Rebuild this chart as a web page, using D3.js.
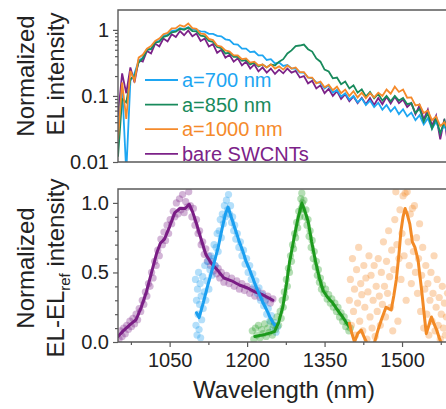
<!DOCTYPE html>
<html><head><meta charset="utf-8">
<script src="https://cdn.jsdelivr.net/npm/d3@7"></script>
<style>html,body{margin:0;padding:0;background:#fff;overflow:hidden}svg{display:block}</style>
</head><body><svg id="c" width="446" height="409"></svg>
<script>
// ---------- TOP PANEL DATA (normalized EL, log scale) ----------
const topWl = [950,958,966,974,982,990,998,1006,1014,1022,
1030,1038,1046,1054,1062,1070,1078,1086,1094,1102,
1110,1118,1126,1134,1142,1150,1158,1166,1174,1182,
1190,1198,1206,1214,1222,1230,1238,1246,1254,1262,
1270,1278,1286,1294,1302,1310,1318,1326,1334,1342,
1350,1358,1366,1374,1382,1390,1398,1406,1414,1422,
1430,1438,1446,1454,1462,1470,1478,1486,1494,1502,
1510,1518,1526,1534,1542,1550,1558,1566,1574,1582,
1590,1598,1606];
const topBlue = [0.03,0.14,0.007,0.17,0.22,0.34,0.38,0.51,0.52,0.66,
0.68,0.82,0.84,0.96,0.98,1.06,1.03,1.1,1.02,1.0,
0.95,0.94,0.87,0.87,0.81,0.8,0.72,0.7,0.61,0.6,
0.52,0.52,0.46,0.47,0.41,0.41,0.35,0.36,0.31,0.32,
0.285,0.295,0.26,0.26,0.225,0.225,0.19,0.185,0.16,0.158,
0.13,0.145,0.112,0.124,0.098,0.11,0.088,0.1,0.08,0.092,
0.073,0.085,0.068,0.079,0.062,0.073,0.058,0.068,0.053,0.063,
0.049,0.056,0.043,0.051,0.037,0.046,0.032,0.041,0.028,0.036,
0.025,0.032,0.024];
const topGreen = [0.012,0.09,0.08,0.18,0.2,0.32,0.37,0.5,0.51,0.64,
0.66,0.78,0.82,0.92,0.94,1.04,1.0,1.08,0.96,0.95,
0.82,0.8,0.68,0.66,0.55,0.53,0.44,0.45,0.39,0.39,
0.34,0.35,0.3,0.32,0.28,0.3,0.27,0.3,0.29,0.33,
0.36,0.44,0.49,0.57,0.58,0.6,0.51,0.47,0.37,0.33,
0.25,0.235,0.185,0.19,0.15,0.165,0.13,0.145,0.112,0.126,
0.098,0.115,0.092,0.107,0.085,0.1,0.083,0.1,0.085,0.093,
0.075,0.078,0.055,0.064,0.041,0.055,0.032,0.046,0.027,0.042,
0.025,0.035,0.023];
const topOrange = [0.022,0.16,0.045,0.24,0.17,0.38,0.42,0.52,0.57,0.68,
0.74,0.86,0.9,1.05,1.06,1.18,1.12,1.25,1.06,1.04,
0.88,0.86,0.73,0.7,0.58,0.56,0.49,0.47,0.41,0.41,
0.36,0.37,0.32,0.33,0.29,0.3,0.27,0.3,0.26,0.28,
0.25,0.29,0.26,0.27,0.23,0.23,0.19,0.19,0.155,0.165,
0.135,0.148,0.122,0.138,0.11,0.125,0.1,0.118,0.095,0.112,
0.092,0.11,0.095,0.112,0.1,0.125,0.108,0.138,0.115,0.125,
0.094,0.095,0.072,0.074,0.055,0.06,0.043,0.049,0.035,0.04,
0.03,0.034,0.026];
const topPurple = [0.05,0.22,0.11,0.27,0.16,0.35,0.33,0.48,0.44,0.62,
0.56,0.74,0.67,0.86,0.78,0.96,0.83,0.98,0.8,0.88,
0.68,0.74,0.56,0.61,0.45,0.5,0.38,0.42,0.33,0.37,
0.29,0.33,0.26,0.3,0.235,0.27,0.225,0.26,0.215,0.25,
0.22,0.26,0.225,0.24,0.19,0.2,0.155,0.17,0.13,0.145,
0.11,0.128,0.1,0.118,0.09,0.106,0.083,0.098,0.078,0.094,
0.075,0.093,0.073,0.093,0.075,0.097,0.077,0.097,0.078,0.088,
0.068,0.078,0.053,0.072,0.044,0.062,0.035,0.05,0.022,0.045,
0.016,0.038,0.026];
const legendLabels = ["a=700 nm","a=850 nm","a=1000 nm","bare SWCNTs"];
const topTickVals = [0.01,0.1,1];
const topTickLabels = ["0.01","0.1","1"];
const topMinorVals = [0.02,0.03,0.04,0.05,0.06,0.07,0.08,0.09,0.2,0.3,0.4,0.5,0.6,0.7,0.8,0.9];

// ---------- BOTTOM PANEL DATA (EL - EL_ref) ----------
const purpleLine = [[950,0.04],[960,0.08],[975,0.13],[985,0.16],[995,0.25],[1005,0.36],[1015,0.5],[1025,0.64],[1032,0.71],[1040,0.74],[1050,0.83],[1060,0.93],[1070,0.96],[1080,0.96],[1088,0.99],[1095,0.93],[1102,0.85],[1110,0.75],[1120,0.63],[1130,0.57],[1142,0.52],[1155,0.46],[1170,0.44],[1185,0.41],[1200,0.39],[1215,0.36],[1230,0.34],[1245,0.31],[1250,0.3]];
const blueLine = [[1102,0.21],[1107,0.175],[1115,0.28],[1124,0.41],[1134,0.54],[1144,0.68],[1153,0.84],[1158,0.92],[1163,0.97],[1170,0.89],[1178,0.8],[1185,0.72],[1192,0.65],[1198,0.58],[1205,0.52],[1211,0.46],[1217,0.4],[1224,0.34],[1231,0.28],[1238,0.23],[1244,0.18],[1250,0.14],[1254,0.12]];
const greenLine = [[1215,0.04],[1235,0.055],[1253,0.075],[1261,0.14],[1269,0.25],[1276,0.41],[1282,0.57],[1290,0.73],[1298,0.88],[1306,1.0],[1312,0.94],[1318,0.87],[1325,0.72],[1333,0.57],[1340,0.46],[1347,0.37],[1356,0.32],[1366,0.28],[1375,0.23],[1385,0.18],[1392,0.14],[1398,0.11]];
const orangeLine = [[1398,0.135],[1403,0.06],[1408,0.0],[1414,0.06],[1421,0.086],[1426,0.04],[1431,0.0],[1439,-0.06],[1447,0.0],[1453,0.08],[1460,0.16],[1465,0.21],[1469,0.25],[1474,0.24],[1479,0.23],[1484,0.33],[1489,0.45],[1494,0.63],[1498,0.8],[1502,0.9],[1506,0.96],[1510,0.92],[1515,0.85],[1520,0.72],[1525,0.68],[1531,0.59],[1538,0.37],[1544,0.16],[1547,0.06],[1552,0.12],[1557,0.18],[1562,0.13],[1567,0.086],[1572,0.03],[1576,-0.01],[1585,-0.08]];
const purplePts = [[952,0.02],[955,0.08],[958,0.04],[961,0.1],[964,0.06],[967,0.12],[970,0.09],[973,0.15],[976,0.11],[979,0.17],[982,0.13],[985,0.2],[988,0.16],[991,0.24],[994,0.22],[997,0.3],[1000,0.27],[1003,0.36],[1006,0.33],[1009,0.42],[1012,0.4],[1015,0.5],[1018,0.46],[1021,0.58],[1024,0.55],[1027,0.66],[1030,0.62],[1033,0.74],[1036,0.7],[1039,0.79],[1042,0.73],[1045,0.84],[1048,0.78],[1051,0.88],[1054,0.85],[1057,0.94],[1060,0.9],[1063,1.0],[1066,0.92],[1069,1.03],[1072,0.95],[1075,1.06],[1078,0.93],[1081,1.01],[1084,0.97],[1087,1.08],[1090,0.98],[1093,0.9],[1096,0.96],[1099,0.84],[1102,0.88],[1105,0.78],[1108,0.8],[1111,0.7],[1114,0.72],[1117,0.63],[1120,0.67],[1123,0.58],[1126,0.62],[1129,0.55],[1132,0.58],[1135,0.51],[1138,0.55],[1141,0.49],[1144,0.53],[1147,0.46],[1150,0.5],[1155,0.43],[1160,0.48],[1165,0.42],[1170,0.46],[1175,0.4],[1180,0.44],[1185,0.38],[1190,0.42],[1195,0.37],[1200,0.4],[1205,0.35],[1210,0.38],[1215,0.33],[1220,0.37],[1225,0.32],[1230,0.35],[1235,0.3],[1240,0.33],[1245,0.28],[1250,0.31]];
const bluePts = [[1100,0.45],[1101,0.12],[1102,0.3],[1103,0.05],[1104,0.38],[1105,0.2],[1106,0.5],[1107,0.09],[1108,0.27],[1109,0.42],[1110,0.03],[1111,0.33],[1112,0.16],[1114,0.47],[1115,0.24],[1117,0.36],[1118,0.55],[1120,0.3],[1122,0.44],[1124,0.58],[1126,0.38],[1128,0.52],[1130,0.62],[1132,0.48],[1134,0.6],[1136,0.7],[1138,0.55],[1140,0.68],[1142,0.78],[1144,0.65],[1146,0.8],[1148,0.88],[1150,0.75],[1152,0.92],[1154,0.85],[1156,0.98],[1158,0.9],[1160,1.02],[1162,0.95],[1164,1.06],[1166,0.92],[1168,0.98],[1170,0.86],[1172,0.9],[1174,0.8],[1176,0.84],[1178,0.74],[1181,0.78],[1184,0.68],[1187,0.72],[1190,0.62],[1193,0.66],[1196,0.56],[1199,0.6],[1202,0.5],[1205,0.55],[1208,0.45],[1211,0.49],[1214,0.4],[1217,0.44],[1220,0.35],[1223,0.39],[1226,0.3],[1229,0.34],[1232,0.26],[1235,0.29],[1238,0.2],[1241,0.24],[1244,0.15],[1247,0.19],[1250,0.1],[1253,0.14],[1256,0.07],[1259,0.11]];
const greenPts = [[1210,0.08],[1213,0.02],[1216,0.1],[1219,0.05],[1222,0.12],[1225,0.03],[1228,0.09],[1231,0.06],[1234,0.13],[1237,0.04],[1240,0.1],[1243,0.07],[1246,0.15],[1249,0.05],[1252,0.12],[1255,0.09],[1258,0.18],[1261,0.12],[1264,0.22],[1266,0.17],[1268,0.3],[1270,0.25],[1272,0.36],[1274,0.32],[1276,0.45],[1278,0.4],[1280,0.53],[1282,0.5],[1284,0.62],[1286,0.58],[1288,0.7],[1290,0.67],[1292,0.78],[1294,0.75],[1296,0.86],[1298,0.82],[1300,0.94],[1302,0.9],[1304,1.03],[1305,0.96],[1306,1.07],[1307,1.0],[1308,0.95],[1310,1.02],[1312,0.9],[1314,0.95],[1316,0.84],[1318,0.88],[1320,0.76],[1322,0.8],[1324,0.68],[1326,0.73],[1328,0.6],[1330,0.65],[1332,0.54],[1334,0.58],[1336,0.48],[1338,0.52],[1340,0.43],[1342,0.46],[1344,0.38],[1346,0.41],[1349,0.35],[1352,0.38],[1355,0.31],[1358,0.34],[1361,0.28],[1364,0.31],[1367,0.25],[1370,0.28],[1373,0.22],[1376,0.25],[1379,0.18],[1382,0.21],[1385,0.15],[1388,0.18],[1391,0.11],[1394,0.14],[1397,0.08],[1400,0.1]];
const orangePts = [[1398,0.3],[1400,0.45],[1402,0.12],[1404,0.6],[1406,0.22],[1408,0.38],[1410,0.05],[1412,0.52],[1414,0.28],[1416,0.68],[1418,0.15],[1420,0.42],[1422,0.34],[1424,0.08],[1426,0.55],[1428,0.25],[1430,0.46],[1432,0.02],[1434,0.36],[1436,0.62],[1438,0.18],[1440,0.48],[1442,0.1],[1444,0.3],[1446,0.55],[1448,0.04],[1450,0.4],[1452,0.22],[1454,0.6],[1456,0.33],[1458,0.12],[1460,0.5],[1462,0.27],[1464,0.72],[1466,0.4],[1468,0.18],[1470,0.58],[1472,0.35],[1474,0.8],[1476,0.47],[1478,0.25],[1480,0.66],[1482,0.08],[1484,0.52],[1486,0.88],[1488,1.08],[1490,0.7],[1492,0.15],[1494,0.6],[1496,0.95],[1498,0.45],[1500,0.78],[1502,1.05],[1504,0.62],[1506,1.07],[1508,0.3],[1510,1.08],[1512,0.72],[1514,0.55],[1516,0.92],[1518,0.42],[1520,0.96],[1522,0.65],[1524,0.98],[1526,0.5],[1528,0.75],[1530,0.35],[1532,0.6],[1534,0.85],[1536,0.22],[1538,0.48],[1540,0.68],[1542,0.1],[1544,0.38],[1546,0.55],[1548,0.2],[1550,0.42],[1552,0.05],[1554,0.3],[1556,0.5],[1558,0.15],[1560,0.35],[1562,0.62],[1564,0.08],[1566,0.25],[1568,0.45],[1570,0.12],[1572,0.32],[1574,0.02],[1576,0.2],[1578,0.4],[1580,0.1],[1582,0.28],[1584,0.05],[1586,0.18],[1588,0.35]];
const botYTicks = [0, 0.5, 1.0];
const botYLabels = ["0.0","0.5","1.0"];
const botYMinor = [0.1,0.2,0.3,0.4,0.6,0.7,0.8,0.9];
const xTicks = [1050,1200,1350,1500];
const xMinor = [975,1125,1275,1425,1575];

// ---------- STYLE ----------
const FONT = "'Liberation Sans', Arial, sans-serif";
const topColors = {blue:"#1ea6f2", green:"#188a5c", orange:"#f58a2b", purple:"#7c2288"};
const botColors = {blue:"#1a9ff0", green:"#1c9a1c", orange:"#f28a26", purple:"#7a1d85"};
const frameColor = "#5a5a5a";

const svg = d3.select("#c");
const L = 118, R = 464;
const x = d3.scaleLinear().domain([950, 1620]).range([L, R]);
const yTop = d3.scaleLog().domain([0.01, 2]).range([162, 10]);
const yBot = d3.scaleLinear().domain([0, 1.1]).range([342, 189]);

const defs = svg.append("defs");
defs.append("clipPath").attr("id","clipTop").append("rect")
  .attr("x",L).attr("y",10).attr("width",R-L).attr("height",152);
defs.append("clipPath").attr("id","clipBot").append("rect")
  .attr("x",L).attr("y",189).attr("width",R-L).attr("height",153);

// ---------- TOP PANEL ----------
const gTop = svg.append("g").attr("clip-path","url(#clipTop)");
const topLine = d3.line().x((d,i)=>x(topWl[i])).y(d=>yTop(Math.max(d,0.003)));
const topSeries = [
  {v:topPurple, c:topColors.purple},
  {v:topBlue, c:topColors.blue},
  {v:topGreen, c:topColors.green},
  {v:topOrange, c:topColors.orange}
];
topSeries.forEach(s=>{
  gTop.append("path").attr("d", topLine(s.v)).attr("fill","none")
    .attr("stroke", s.c).attr("stroke-width",1.8).attr("stroke-linejoin","miter");
});

svg.append("path").attr("d",`M${R},10H${L}V162H${R}`).attr("fill","none")
  .attr("stroke",frameColor).attr("stroke-width",1.4);

const axTop = svg.append("g").attr("transform",`translate(${L},0)`)
  .call(d3.axisLeft(yTop).tickValues(topTickVals).tickSize(5).tickPadding(4)
    .tickFormat((d,i)=>topTickLabels[i]));
const axTopMinor = svg.append("g").attr("transform",`translate(${L},0)`)
  .call(d3.axisLeft(yTop).tickValues(topMinorVals).tickSize(3).tickFormat(""));
[axTop, axTopMinor].forEach(a=>{a.select(".domain").remove();
  a.selectAll("line").attr("stroke",frameColor).attr("stroke-width",1.2);});
axTop.selectAll("text").attr("font-family",FONT).attr("font-size",20).attr("fill","#222");

const legColors = [topColors.blue, topColors.green, topColors.orange, topColors.purple];
legendLabels.forEach((lab,i)=>{
  const yy = 80 + i*24.6;
  svg.append("line").attr("x1",145).attr("x2",178).attr("y1",yy).attr("y2",yy)
    .attr("stroke",legColors[i]).attr("stroke-width",1.8);
  svg.append("text").attr("x",182).attr("y",yy).attr("dy","0.35em")
    .attr("font-family",FONT).attr("font-size",20).attr("fill",legColors[i]).text(lab);
});

svg.append("text").attr("transform","translate(34,76) rotate(-90)")
  .attr("text-anchor","middle").attr("font-family",FONT).attr("font-size",24).attr("fill","#222")
  .text("Normalized");
svg.append("text").attr("transform","translate(64,74) rotate(-90)")
  .attr("text-anchor","middle").attr("font-family",FONT).attr("font-size",24).attr("fill","#222")
  .text("EL intensity");

// ---------- BOTTOM PANEL ----------
const gBot = svg.append("g").attr("clip-path","url(#clipBot)");
const scatterSets = [
  {p:purplePts, c:botColors.purple},
  {p:bluePts, c:botColors.blue},
  {p:greenPts, c:botColors.green},
  {p:orangePts, c:botColors.orange}
];
scatterSets.forEach(s=>{
  gBot.append("g").selectAll("circle").data(s.p).join("circle")
    .attr("cx",d=>x(d[0])).attr("cy",d=>yBot(d[1])).attr("r",3.6)
    .attr("fill",s.c).attr("fill-opacity",0.33);
});
const botLine = d3.line().x(d=>x(d[0])).y(d=>yBot(d[1]));
[{d:purpleLine,c:botColors.purple},{d:blueLine,c:botColors.blue},{d:greenLine,c:botColors.green},{d:orangeLine,c:botColors.orange}]
.forEach(s=>{
  gBot.append("path").attr("d",botLine(s.d)).attr("fill","none").attr("stroke",s.c)
    .attr("stroke-width",3).attr("stroke-linejoin","round").attr("stroke-linecap","round");
});

svg.append("path").attr("d",`M${R},189H${L}V342H${R}`).attr("fill","none")
  .attr("stroke",frameColor).attr("stroke-width",1.4);

const axBy = svg.append("g").attr("transform",`translate(${L},0)`)
  .call(d3.axisLeft(yBot).tickValues(botYTicks).tickSize(5).tickPadding(4)
    .tickFormat((d,i)=>botYLabels[i]));
const axByMinor = svg.append("g").attr("transform",`translate(${L},0)`)
  .call(d3.axisLeft(yBot).tickValues(botYMinor).tickSize(3).tickFormat(""));
const axBx = svg.append("g").attr("transform",`translate(0,342)`)
  .call(d3.axisBottom(x).tickValues(xTicks).tickSize(5).tickPadding(6).tickFormat(d3.format("d")));
const axBxMinor = svg.append("g").attr("transform",`translate(0,342)`)
  .call(d3.axisBottom(x).tickValues(xMinor).tickSize(3).tickFormat(""));
[axBy, axByMinor, axBx, axBxMinor].forEach(a=>{a.select(".domain").remove();
  a.selectAll("line").attr("stroke",frameColor).attr("stroke-width",1.2);});
[axBy, axBx].forEach(a=>a.selectAll("text").attr("font-family",FONT).attr("font-size",20).attr("fill","#222"));

svg.append("text").attr("transform","translate(34,268) rotate(-90)")
  .attr("text-anchor","middle").attr("font-family",FONT).attr("font-size",24).attr("fill","#222")
  .text("Normalized");
const yl2 = svg.append("text").attr("transform","translate(64,268) rotate(-90)")
  .attr("text-anchor","middle").attr("font-family",FONT).attr("font-size",24).attr("fill","#222");
yl2.append("tspan").text("EL-EL");
yl2.append("tspan").attr("font-size",15).attr("dy",6).text("ref");
yl2.append("tspan").attr("dy",-6).text(" intensity");

svg.append("text").attr("x",284).attr("y",398).attr("text-anchor","middle")
  .attr("font-family",FONT).attr("font-size",24).attr("fill","#222").text("Wavelength (nm)");
</script>
</body></html>
